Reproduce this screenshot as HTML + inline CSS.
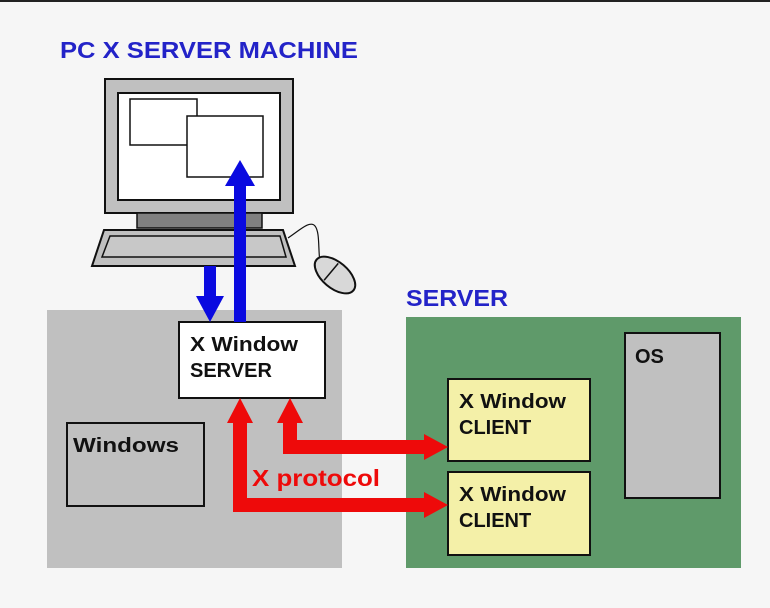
<!DOCTYPE html>
<html><head><style>
body{margin:0;background:#f6f6f6;width:770px;height:608px;overflow:hidden}
svg{display:block}
text{font-family:"Liberation Sans",sans-serif;font-weight:bold}
</style></head><body>
<svg width="770" height="608" viewBox="0 0 770 608">
<rect x="0" y="0" width="770" height="608" fill="#f6f6f6"/>
<line x1="0" y1="1" x2="770" y2="1" stroke="#222" stroke-width="2"/>
<text x="60" y="58" font-size="23" fill="#2323c8" textLength="298" lengthAdjust="spacingAndGlyphs">PC X SERVER MACHINE</text>
<text x="406" y="306" font-size="23" fill="#2323c8" textLength="102" lengthAdjust="spacingAndGlyphs">SERVER</text>
<!-- monitor -->
<rect x="105" y="79" width="188" height="134" fill="#c0c0c0" stroke="#111" stroke-width="2"/>
<rect x="118" y="93" width="162" height="107" fill="#fff" stroke="#111" stroke-width="2"/>
<rect x="130" y="99" width="67" height="46" fill="#fff" stroke="#111" stroke-width="1.5"/>
<rect x="187" y="116" width="76" height="61" fill="#fff" stroke="#111" stroke-width="1.5"/>
<rect x="137" y="213" width="125" height="15" fill="#808080" stroke="#111" stroke-width="1.5"/>
<polygon points="104,230 283,230 295,266 92,266" fill="#c0c0c0" stroke="#111" stroke-width="2"/>
<polygon points="110,236 280,236 286,257 102,257" fill="#c8c8c8" stroke="#111" stroke-width="1.5"/>
<path d="M288,238 C300,230 310,220 315,226 C320,232 318,250 320,262" fill="none" stroke="#111" stroke-width="1.2"/>
<g transform="rotate(-50 335 275)"><ellipse cx="335" cy="275" rx="13" ry="24" fill="#d8d8d8" stroke="#111" stroke-width="2"/><line x1="324" y1="270" x2="346" y2="270" stroke="#111" stroke-width="1.5"/></g>
<!-- gray box -->
<rect x="47" y="310" width="295" height="258" fill="#c0c0c0"/>
<rect x="67" y="423" width="137" height="83" fill="#c0c0c0" stroke="#111" stroke-width="2"/>
<text x="73" y="452" font-size="20" fill="#111" textLength="106" lengthAdjust="spacingAndGlyphs">Windows</text>
<!-- green -->
<rect x="406" y="317" width="335" height="251" fill="#5f9a6a"/>
<rect x="625" y="333" width="95" height="165" fill="#c0c0c0" stroke="#111" stroke-width="2"/>
<text x="635" y="363" font-size="20" fill="#111">OS</text>
<rect x="448" y="379" width="142" height="82" fill="#f4f0a8" stroke="#111" stroke-width="2"/>
<text x="459" y="408" font-size="20" fill="#111" textLength="107" lengthAdjust="spacingAndGlyphs">X Window</text>
<text x="459" y="434" font-size="20" fill="#111">CLIENT</text>
<rect x="448" y="472" width="142" height="83" fill="#f4f0a8" stroke="#111" stroke-width="2"/>
<text x="459" y="501" font-size="20" fill="#111" textLength="107" lengthAdjust="spacingAndGlyphs">X Window</text>
<text x="459" y="527" font-size="20" fill="#111">CLIENT</text>
<!-- server box -->
<rect x="179" y="322" width="146" height="76" fill="#fff" stroke="#111" stroke-width="2"/>
<text x="190" y="351" font-size="20" fill="#111" textLength="108" lengthAdjust="spacingAndGlyphs">X Window</text>
<text x="190" y="377" font-size="20" fill="#111">SERVER</text>
<!-- blue arrows -->
<rect x="234" y="184" width="12" height="138" fill="#0a0ae0"/>
<polygon points="240,160 255,186 225,186" fill="#0a0ae0"/>
<rect x="204" y="266" width="12" height="32" fill="#0a0ae0"/>
<polygon points="210,322 224,296 196,296" fill="#0a0ae0"/>
<!-- red arrows -->
<g fill="#ee0a0a">
<polygon points="240,398 253,423 227,423"/>
<rect x="233" y="420" width="14" height="92"/>
<rect x="233" y="498" width="195" height="14"/>
<polygon points="448,505 424,492 424,518"/>
<polygon points="290,398 303,423 277,423"/>
<rect x="283" y="420" width="14" height="34"/>
<rect x="283" y="440" width="145" height="14"/>
<polygon points="448,447 424,434 424,460"/>
</g>
<text x="252" y="486" font-size="23" fill="#ee0a0a" textLength="128" lengthAdjust="spacingAndGlyphs">X protocol</text>
</svg>
</body></html>
